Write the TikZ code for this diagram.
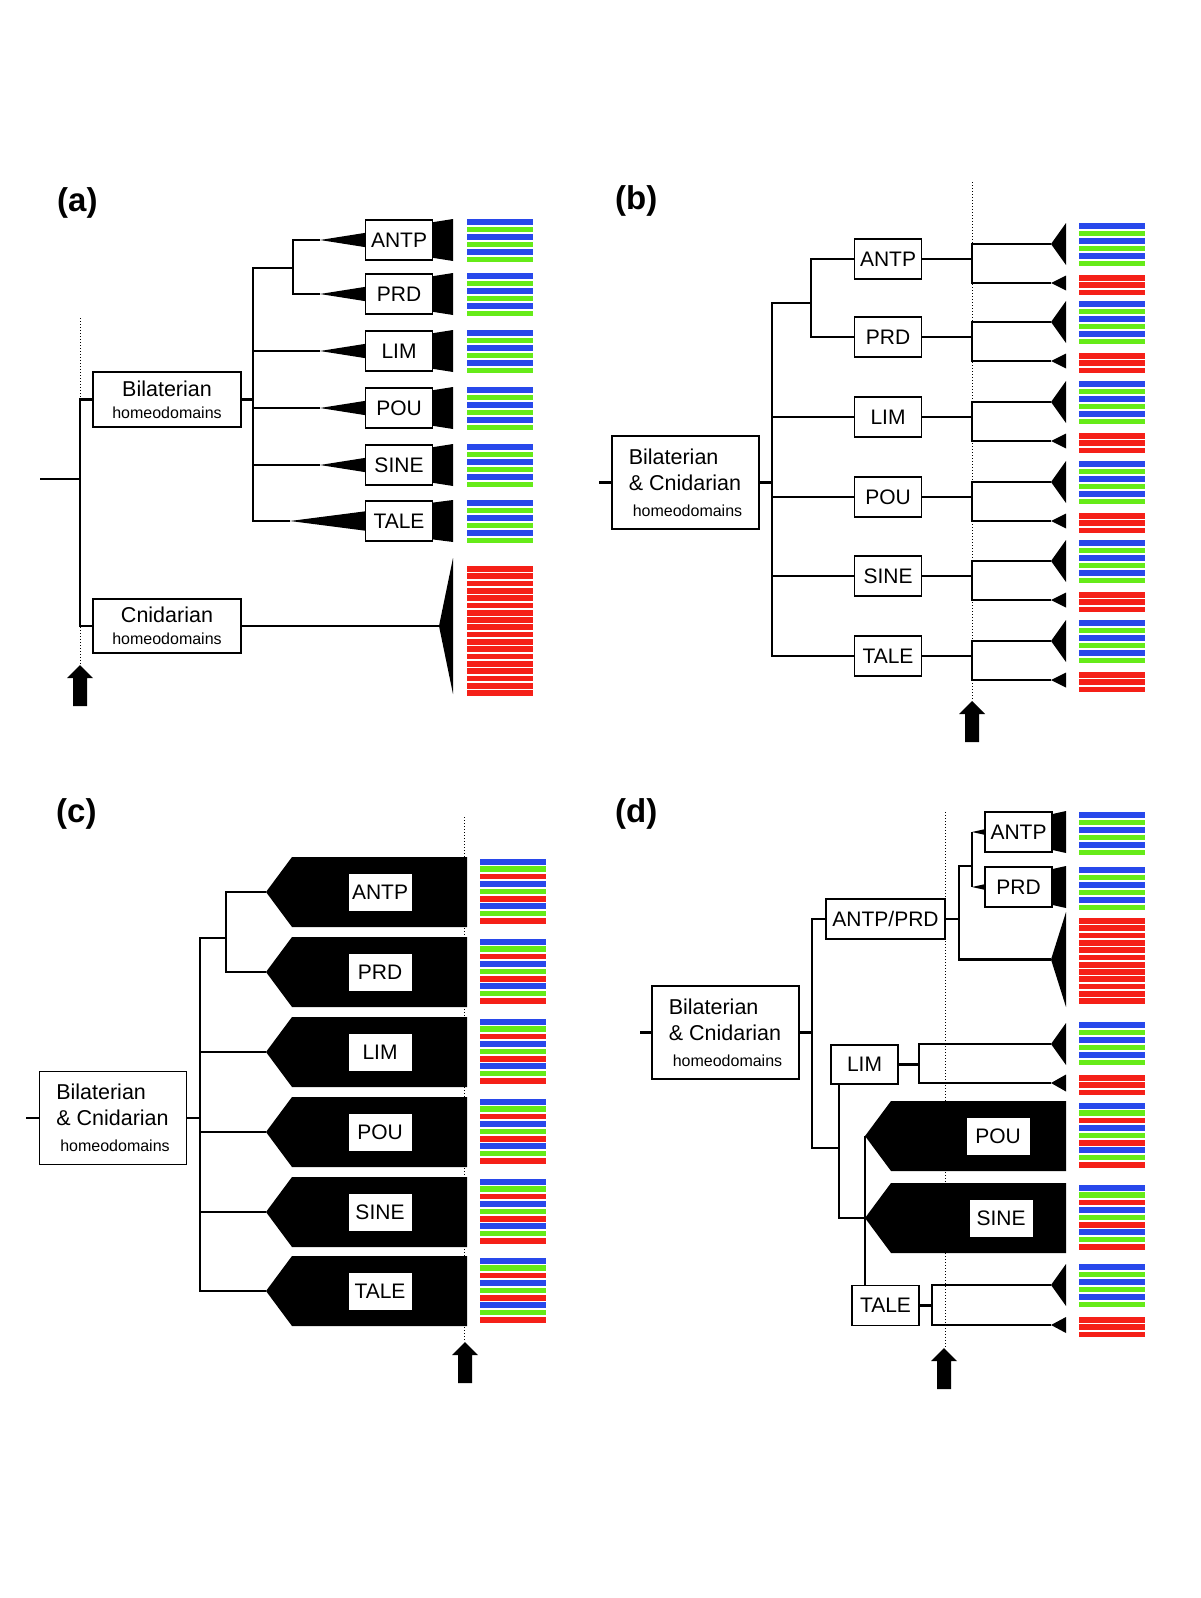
\documentclass[tikz,border=0pt]{standalone}
\usepackage{fontspec}
\setmainfont{Liberation Sans}
\usepackage{tikz}
\usetikzlibrary{calc}

\definecolor{hdblue}{RGB}{40,72,235}
\definecolor{hdgreen}{RGB}{102,235,24}
\definecolor{hdred}{RGB}{245,32,24}

%% bar groups : x = left edge, y = top edge
\newcommand{\barsBG}[2]{\foreach \col [count=\i from 0] in {hdblue,hdgreen,hdblue,hdgreen,hdblue,hdgreen}
  {\fill[\col] (#1,#2+\i*7.5) rectangle ++(66,5.6);}}
\newcommand{\barsBGR}[2]{\foreach \col [count=\i from 0] in {hdblue,hdgreen,hdred,hdblue,hdgreen,hdred,hdblue,hdgreen,hdred}
  {\fill[\col] (#1,#2+\i*7.4) rectangle ++(66,5.6);}}
\newcommand{\barsR}[3]{\foreach \i in {1,...,#3}
  {\fill[hdred] (#1,#2+\i*7.3-7.3) rectangle ++(66,5.7);}}
%% cone : tip, length, half height
\newcommand{\cone}[3]{\fill (#1) -- ++(#2,#3) -- ++(0,-2*#3) -- cycle;}
%% black block pointing left
\newcommand{\cladeblock}[1]{\fill (#1) -- ++(26,-35) -- ++(175,0) -- ++(0,70) -- ++(-175,0) -- cycle;}
%% time arrow : x, top
\newcommand{\timearrow}[2]{\fill (#1,#2) -- ++(13,13) -- ++(-6,0) -- ++(0,28) -- ++(-14,0) -- ++(0,-28) -- ++(-6,0) -- cycle;}

\tikzset{
  tree/.style={line width=2.1pt},
  timeline/.style={dotted, line width=1pt},
  gene/.style={draw, line width=1.9pt, fill=white, inner sep=0pt, minimum width=67pt, minimum height=40pt, font=\fontsize{21}{25}\selectfont},
  cladelabel/.style={fill=white, inner sep=0pt, minimum width=63pt, minimum height=37pt, font=\fontsize{21}{25}\selectfont},
  group/.style={draw, line width=1.9pt, fill=white, inner sep=0pt, minimum width=147pt, minimum height=93pt, font=\fontsize{21.5}{26}\selectfont, align=left},
  panel/.style={anchor=base west, inner sep=0pt, font=\bfseries\fontsize{33}{36}\selectfont}
}

\begin{document}
\begin{tikzpicture}[x=1pt, y=-1pt, line join=miter]
\useasboundingbox (0,0) rectangle (1200,1598);

 %% ***Panel (a)***
\node[panel] (labA) at (57,211) {(a)};
\draw[timeline] (80,318) -- (80,665);
\timearrow{80}{665}

\node[group, align=center, minimum width=148pt, minimum height=55pt] (bilA) at (167,399.5) {Bilaterian\\[-4pt]{\fontsize{16}{18}\selectfont homeodomains}};
\node[group, align=center, minimum width=148pt, minimum height=54pt] (cniA) at (167,626) {Cnidarian\\[-4pt]{\fontsize{16}{18}\selectfont homeodomains}};
\coordinate (rA) at (40,479);
\draw[tree] (rA) -- (80,479);
\draw[tree] (bilA.west) -| (80,479) |- (cniA.west);

% leaves
\foreach \n/\t/\y/\tx in {antp/ANTP/240/320,prd/PRD/294/320,lim/LIM/351/320,pou/POU/408/320,sine/SINE/465/320,tale/TALE/521/290}{
  \coordinate (t\n A) at (\tx,\y);
  \cone{t\n A}{453-\tx}{21}
  \node[gene] (\n A) at (399,\y) {\t};
  \barsBG{467}{\y-21}
}
\coordinate (vA) at (253,268);
\draw[tree] (tantpA) -| (293,268) |- (tprdA);
\draw[tree] (293,268) -- (vA) |- (ttaleA);
\draw[tree] (bilA.east) -- (vA |- bilA.east);
\foreach \n in {lim,pou,sine} \draw[tree] (vA |- t\n A) -- (t\n A);

% cnidarian
\coordinate (tcniA) at (439,626);
\draw[tree] (cniA.east) -- (tcniA);
\cone{tcniA}{14}{68}
\barsR{467}{566}{18}

 %% ***Panel (b)***
\node[panel] (labB) at (615,209) {(b)};
\coordinate (dB) at (972,182);
\draw[timeline] (dB) -- (972,700);
\timearrow{972}{701}

\node[group] (bilB) at (685.5,482.5) {Bilaterian\\\& Cnidarian\\\hspace*{4pt}{\fontsize{16}{18}\selectfont homeodomains}};
\coordinate (rB) at (599,482.5);
\draw[tree] (rB) -- (bilB.west);
\coordinate (vB) at (772,303);
\draw[tree] (bilB.east) -- (vB |- bilB.east);

\foreach \n/\t/\y in {antp/ANTP/259,prd/PRD/337,lim/LIM/417,pou/POU/497,sine/SINE/576,tale/TALE/656}{
  \node[gene] (\n B) at (888,\y) {\t};
  \coordinate (\n B1) at (1051,\y-15);
  \coordinate (\n B2) at (1051,\y+24);
  \draw[tree] (\n B.east) -- (dB |- \n B.east);
  \draw[tree] (\n B1) -| (dB |- \n B.east) |- (\n B2);
  \cone{\n B1}{15}{21}
  \cone{\n B2}{15}{7.5}
  \barsBG{1079}{\y-36}
  \barsR{1079}{\y+16}{3}
}
\draw[tree] (antpB.west) -| (811,303) |- (prdB.west);
\draw[tree] (811,303) -- (vB) |- (taleB.west);
\foreach \n in {lim,pou,sine} \draw[tree] (vB |- \n B.west) -- (\n B.west);

 %% ***Panel (c)***
\node[panel] (labC) at (56,822) {(c)};
\draw[timeline] (464,817) -- (464,1342);
\timearrow{465}{1342}

\node[group] (bilC) at (113,1118) {Bilaterian\\\& Cnidarian\\\hspace*{4pt}{\fontsize{16}{18}\selectfont homeodomains}};
\coordinate (rC) at (26,1118);
\draw[tree] (rC) -- (bilC.west);
\coordinate (vC) at (200,938);
\draw[tree] (bilC.east) -- (vC |- bilC.east);

\foreach \n/\t/\y in {antp/ANTP/892,prd/PRD/972,lim/LIM/1052,pou/POU/1132,sine/SINE/1212,tale/TALE/1291}{
  \coordinate (t\n C) at (266,\y);
  \cladeblock{t\n C}
  \node[cladelabel] (\n C) at (380,\y) {\t};
  \barsBGR{480}{\y-33}
}
\draw[tree] (tantpC) -| (226,938) |- (tprdC);
\draw[tree] (226,938) -- (vC) |- (ttaleC);
\foreach \n in {lim,pou,sine} \draw[tree] (vC |- t\n C) -- (t\n C);

 %% ***Panel (d)***
\node[panel] (labD) at (615,822) {(d)};
\draw[timeline] (945,812) -- (945,1347);
\timearrow{944}{1348}

\node[group] (bilD) at (725.5,1032.5) {Bilaterian\\\& Cnidarian\\\hspace*{4pt}{\fontsize{16}{18}\selectfont homeodomains}};
\coordinate (rD) at (640,1032.5);
\draw[tree] (rD) -- (bilD.west);
\coordinate (vD) at (812,1148);
\draw[tree] (bilD.east) -- (vD |- bilD.east);

% ANTP/PRD
\node[gene, minimum width=119pt] (apD) at (885.5,919) {ANTP/PRD};
\draw[tree] (apD.west) -| (vD) -- (839,1148);
\coordinate (tantpD) at (972,832);
\coordinate (tprdD) at (972,887);
\coordinate (tredD) at (1051,959.5);
\draw[tree] (apD.east) -- (959,919);
\draw[tree] (tantpD) -- (tprdD);
\draw[tree] (972,866) -| (959,959.5) -- (tredD);
\cone{tantpD}{94}{21}
\cone{tprdD}{94}{21}
\cone{tredD}{15}{47.5}
\node[gene] (antpD) at (1018.5,832) {ANTP};
\node[gene] (prdD) at (1018.5,887) {PRD};
\barsBG{1079}{812}
\barsBG{1079}{867}
\barsR{1079}{918}{12}

% LIM
\node[gene, minimum height=39pt] (limD) at (864.5,1064.5) {LIM};
\coordinate (tlimD1) at (1051,1044);
\coordinate (tlimD2) at (1051,1083);
\draw[tree] (limD.east) -- (919,1064.5);
\draw[tree] (tlimD1) -| (919,1064.5) |- (tlimD2);
\cone{tlimD1}{15}{21}
\cone{tlimD2}{15}{8.5}
\barsBG{1079}{1022}
\barsR{1079}{1075}{3}

% POU, SINE
\coordinate (tpouD) at (865,1136);
\coordinate (tsineD) at (865,1218);
\draw[tree] (839,1148 |- limD.south) |- (tsineD);
\cladeblock{tpouD}
\cladeblock{tsineD}
\node[cladelabel] (pouD) at (998,1136) {POU};
\node[cladelabel] (sineD) at (1001,1218) {SINE};
\barsBGR{1079}{1103}
\barsBGR{1079}{1185}

% TALE
\node[gene] (taleD) at (885.5,1305.5) {TALE};
\draw[tree] (tpouD) -- (tpouD |- taleD.north);
\coordinate (ttaleD1) at (1051,1285);
\coordinate (ttaleD2) at (1051,1325);
\draw[tree] (taleD.east) -- (932,1305.5);
\draw[tree] (ttaleD1) -| (932,1305.5) |- (ttaleD2);
\cone{ttaleD1}{15}{21}
\cone{ttaleD2}{15}{8}
\barsBG{1079}{1264}
\barsR{1079}{1317}{3}

\end{tikzpicture}
\end{document}
